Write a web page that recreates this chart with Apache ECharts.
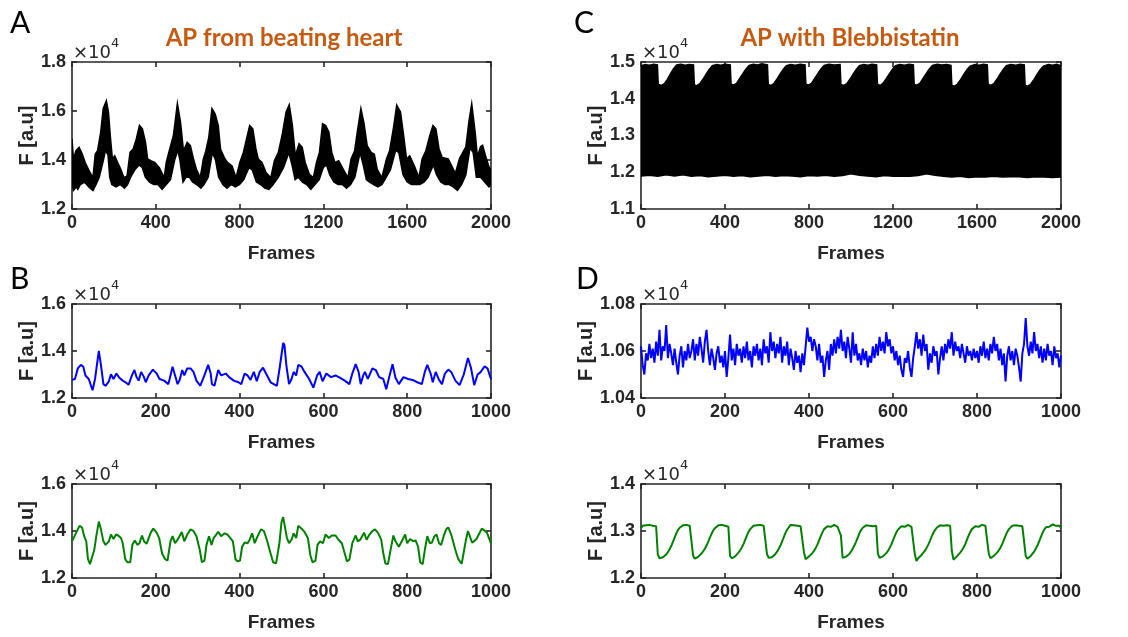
<!DOCTYPE html>
<html>
<head>
<meta charset="utf-8">
<script src="https://cdn.jsdelivr.net/npm/echarts@6/dist/echarts.min.js"></script>
<style>
html, body { margin: 0; padding: 0; background: #fff; }
#container { width: 1128px; height: 637px; }
</style>
</head>
<body>
<div id="container"></div>
<script>
// all values in units of 1e4 (as on the axes)

// A: beating heart, black band (upper / lower envelope)
var aUpperFrames = [0,7,19,34,49,63,86,100,111,122,137,149,164,174,184,193,204,218,233,248,263,277,292,307,322,336,351,361,376,395,417,440,450,462,484,503,518,532,550,565,580,594,612,627,639,653,668,683,698,709,727,742,764,783,801,818,833,848,863,878,889,907,926,949,966,985,1004,1022,1037,1052,1066,1084,1099,1113,1133,1152,1167,1181,1196,1211,1226,1240,1255,1273,1295,1317,1332,1349,1364,1379,1394,1409,1428,1443,1457,1479,1501,1516,1535,1550,1568,1583,1597,1612,1634,1656,1671,1689,1708,1723,1737,1752,1767,1796,1830,1850,1880,1895,1908,1925,1935,1950,1960,1975,1990,2000];
var aUpper = [1.486,1.404,1.438,1.452,1.424,1.390,1.349,1.328,1.424,1.438,1.514,1.610,1.642,1.596,1.486,1.404,1.417,1.390,1.362,1.328,1.335,1.431,1.445,1.486,1.541,1.527,1.472,1.404,1.397,1.390,1.369,1.328,1.390,1.431,1.500,1.631,1.555,1.438,1.472,1.459,1.404,1.362,1.328,1.404,1.438,1.493,1.610,1.589,1.541,1.445,1.410,1.390,1.376,1.328,1.390,1.431,1.486,1.541,1.527,1.445,1.404,1.390,1.349,1.328,1.397,1.431,1.507,1.596,1.626,1.541,1.417,1.466,1.452,1.390,1.342,1.328,1.390,1.431,1.548,1.541,1.514,1.431,1.390,1.397,1.362,1.328,1.404,1.438,1.527,1.610,1.548,1.459,1.431,1.424,1.362,1.328,1.404,1.438,1.534,1.624,1.596,1.500,1.404,1.417,1.376,1.328,1.404,1.438,1.500,1.541,1.527,1.445,1.410,1.404,1.346,1.407,1.454,1.560,1.630,1.509,1.414,1.454,1.460,1.414,1.373,1.360];
var aLowerFrames = [0,7,20,28,40,60,80,100,115,130,150,160,172,180,190,210,230,250,265,280,300,320,335,350,370,390,410,430,450,470,490,505,515,530,545,560,575,595,615,630,650,670,685,700,720,740,760,780,800,820,845,860,880,900,920,940,960,985,1010,1035,1050,1065,1080,1100,1120,1140,1160,1180,1200,1215,1230,1250,1270,1290,1310,1330,1350,1375,1390,1405,1420,1440,1460,1480,1500,1520,1545,1560,1580,1600,1620,1640,1660,1680,1700,1725,1740,1760,1780,1800,1820,1840,1860,1880,1900,1915,1930,1950,1970,1990,2000];
var aLower = [1.307,1.276,1.290,1.280,1.300,1.310,1.290,1.275,1.300,1.330,1.400,1.440,1.420,1.330,1.300,1.290,1.300,1.285,1.300,1.330,1.360,1.380,1.370,1.330,1.310,1.300,1.300,1.280,1.300,1.320,1.400,1.440,1.400,1.310,1.330,1.330,1.310,1.300,1.285,1.300,1.330,1.430,1.400,1.330,1.300,1.285,1.300,1.290,1.300,1.320,1.370,1.360,1.310,1.300,1.285,1.280,1.300,1.330,1.370,1.430,1.380,1.320,1.330,1.310,1.300,1.280,1.300,1.320,1.370,1.380,1.340,1.310,1.300,1.300,1.285,1.300,1.330,1.430,1.380,1.320,1.310,1.300,1.290,1.300,1.330,1.360,1.440,1.430,1.340,1.310,1.300,1.300,1.300,1.310,1.330,1.380,1.340,1.310,1.300,1.300,1.290,1.276,1.300,1.340,1.450,1.430,1.330,1.330,1.310,1.290,1.300];

// C: blebbistatin, black band
var cUpperFrames = [0,20,40,60,78,82,95,110,125,140,155,170,190,210,230,250,254,265,280,295,310,325,340,360,380,400,425,429,440,455,470,485,500,515,535,555,575,602,606,618,632,647,662,677,692,712,735,758,781,785,797,812,827,842,857,872,895,920,948,952,965,980,995,1010,1025,1040,1060,1080,1100,1122,1126,1138,1152,1167,1182,1197,1212,1232,1255,1277,1297,1301,1313,1328,1343,1358,1373,1388,1410,1432,1455,1476,1480,1492,1507,1522,1537,1552,1567,1590,1610,1630,1649,1653,1665,1680,1695,1710,1725,1740,1760,1785,1805,1825,1829,1841,1856,1871,1886,1901,1916,1940,1960,1980,2000];
var cUpper = [1.490,1.493,1.491,1.494,1.492,1.440,1.436,1.440,1.452,1.468,1.482,1.492,1.494,1.491,1.493,1.492,1.438,1.435,1.441,1.453,1.467,1.480,1.490,1.493,1.491,1.494,1.492,1.440,1.437,1.442,1.455,1.468,1.481,1.491,1.494,1.492,1.495,1.492,1.439,1.436,1.441,1.453,1.467,1.480,1.490,1.493,1.491,1.494,1.492,1.440,1.437,1.442,1.455,1.468,1.481,1.491,1.494,1.492,1.493,1.439,1.436,1.441,1.453,1.467,1.480,1.490,1.493,1.491,1.494,1.492,1.440,1.436,1.442,1.454,1.467,1.480,1.490,1.493,1.491,1.494,1.492,1.439,1.437,1.442,1.455,1.468,1.481,1.491,1.494,1.492,1.493,1.491,1.437,1.434,1.440,1.452,1.466,1.479,1.489,1.493,1.491,1.494,1.492,1.440,1.436,1.441,1.453,1.467,1.480,1.490,1.493,1.491,1.494,1.492,1.437,1.434,1.440,1.452,1.466,1.479,1.489,1.493,1.491,1.494,1.490];
var cLowerFrames = [0,40,80,120,160,200,240,280,320,360,400,440,480,520,560,600,640,680,720,760,800,840,880,920,960,1000,1040,1080,1120,1160,1200,1240,1280,1320,1360,1400,1440,1480,1520,1560,1600,1640,1680,1720,1760,1800,1840,1880,1920,1960,2000];
var cLower = [1.190,1.192,1.189,1.193,1.190,1.193,1.189,1.191,1.188,1.190,1.192,1.189,1.191,1.188,1.190,1.192,1.189,1.191,1.190,1.188,1.191,1.190,1.192,1.189,1.191,1.196,1.192,1.190,1.188,1.191,1.189,1.190,1.189,1.191,1.196,1.192,1.189,1.187,1.189,1.186,1.188,1.187,1.189,1.187,1.188,1.188,1.186,1.188,1.187,1.186,1.187];

// B: beating heart, blue trace
var bFrames = [0,7,14,21,27,32,40,49,55,64,69,75,80,88,93,99,106,113,121,128,135,143,149,154,159,165,171,176,183,193,202,209,220,230,235,240,246,252,257,263,268,275,283,290,297,306,316,325,331,334,340,349,356,367,375,386,397,404,412,419,426,434,441,448,456,463,474,489,496,504,507,512,518,524,529,535,540,548,555,566,576,585,591,598,607,618,629,640,651,662,669,677,684,689,695,699,706,717,725,733,743,750,758,765,772,780,791,802,813,824,835,842,848,856,861,868,876,883,890,898,905,915,925,935,945,952,960,968,975,985,992,1000];
var bBlue = [1.277,1.281,1.326,1.341,1.333,1.296,1.281,1.233,1.281,1.400,1.341,1.259,1.252,1.271,1.301,1.281,1.304,1.286,1.274,1.267,1.256,1.296,1.319,1.289,1.274,1.311,1.292,1.267,1.296,1.321,1.304,1.281,1.274,1.259,1.296,1.333,1.296,1.259,1.277,1.319,1.296,1.326,1.326,1.311,1.274,1.252,1.296,1.341,1.304,1.259,1.252,1.319,1.296,1.304,1.289,1.274,1.267,1.259,1.304,1.296,1.277,1.311,1.271,1.311,1.329,1.304,1.267,1.252,1.333,1.434,1.425,1.333,1.259,1.281,1.311,1.296,1.341,1.333,1.311,1.281,1.244,1.296,1.311,1.271,1.304,1.289,1.296,1.286,1.274,1.259,1.304,1.344,1.311,1.259,1.296,1.311,1.281,1.326,1.319,1.289,1.281,1.237,1.296,1.344,1.286,1.259,1.289,1.281,1.277,1.267,1.259,1.311,1.341,1.304,1.267,1.311,1.277,1.259,1.304,1.321,1.311,1.274,1.255,1.300,1.370,1.330,1.255,1.300,1.310,1.335,1.325,1.280];

// B (lower): beating heart, green trace
var b2Frames = [0,4,10,18,24,29,34,38,43,47,53,58,64,69,75,80,88,93,99,105,110,117,121,127,132,139,144,150,156,161,167,172,178,183,188,194,202,208,215,222,228,235,240,246,252,262,268,275,283,290,297,305,310,316,321,327,333,338,349,356,364,371,378,384,390,395,401,406,412,419,424,430,436,443,451,458,465,474,480,487,495,500,504,508,513,518,524,529,535,540,548,555,563,569,574,581,586,592,599,605,613,620,629,636,644,651,656,662,669,677,682,688,697,703,710,717,723,730,738,743,748,754,761,767,772,780,787,795,800,807,814,820,826,831,837,842,848,854,859,865,870,876,881,887,893,898,905,915,922,930,940,945,955,965,978,990,1000];
var b2Green = [1.356,1.363,1.393,1.422,1.415,1.378,1.356,1.281,1.259,1.252,1.319,1.378,1.440,1.407,1.356,1.341,1.356,1.385,1.366,1.385,1.381,1.370,1.348,1.281,1.267,1.267,1.341,1.360,1.341,1.348,1.381,1.356,1.345,1.370,1.393,1.410,1.393,1.370,1.304,1.281,1.274,1.356,1.378,1.348,1.363,1.396,1.356,1.385,1.407,1.400,1.378,1.319,1.267,1.274,1.341,1.378,1.341,1.370,1.396,1.378,1.390,1.385,1.370,1.356,1.281,1.271,1.274,1.333,1.351,1.348,1.363,1.390,1.348,1.378,1.407,1.400,1.363,1.304,1.267,1.262,1.348,1.437,1.459,1.452,1.370,1.348,1.363,1.390,1.370,1.422,1.410,1.396,1.370,1.296,1.267,1.274,1.341,1.356,1.348,1.385,1.370,1.381,1.381,1.363,1.348,1.304,1.271,1.278,1.348,1.381,1.356,1.363,1.393,1.363,1.385,1.400,1.407,1.393,1.363,1.304,1.262,1.259,1.326,1.381,1.356,1.333,1.356,1.385,1.348,1.366,1.356,1.360,1.333,1.267,1.259,1.319,1.378,1.348,1.351,1.378,1.385,1.348,1.341,1.378,1.407,1.415,1.385,1.319,1.280,1.260,1.360,1.400,1.350,1.365,1.410,1.394,1.347];

// D: blebbistatin, blue trace, one value every 4 frames
var dStep = 4;
var dBlue = [
  1.062,1.054,1.050,1.059,1.056,1.063,1.057,1.061,1.055,1.064,
  1.058,1.069,1.056,1.062,1.060,1.071,1.057,1.063,1.059,1.054,
  1.061,1.055,1.050,1.058,1.062,1.053,1.060,1.056,1.063,1.057,
  1.060,1.065,1.056,1.063,1.058,1.066,1.061,1.055,1.064,1.069,
  1.060,1.054,1.061,1.057,1.052,1.059,1.062,1.055,1.058,1.053,
  1.060,1.049,1.057,1.067,1.056,1.061,1.054,1.063,1.058,1.061,
  1.055,1.062,1.057,1.064,1.056,1.060,1.053,1.062,1.058,1.063,
  1.056,1.061,1.054,1.065,1.059,1.062,1.055,1.068,1.060,1.064,
  1.057,1.063,1.059,1.066,1.055,1.062,1.058,1.064,1.054,1.061,
  1.057,1.052,1.060,1.055,1.058,1.051,1.059,1.054,1.062,1.070,
  1.064,1.066,1.060,1.065,1.062,1.056,1.063,1.055,1.058,1.049,
  1.056,1.060,1.052,1.063,1.058,1.065,1.059,1.066,1.061,1.069,
  1.060,1.064,1.057,1.066,1.061,1.055,1.068,1.058,1.063,1.056,
  1.059,1.054,1.061,1.056,1.060,1.053,1.058,1.055,1.062,1.057,
  1.063,1.058,1.066,1.060,1.064,1.059,1.068,1.062,1.065,1.059,
  1.062,1.056,1.060,1.054,1.058,1.052,1.049,1.057,1.055,1.060,
  1.053,1.049,1.057,1.062,1.068,1.061,1.065,1.058,1.067,1.060,
  1.063,1.052,1.059,1.055,1.062,1.058,1.060,1.050,1.057,1.062,
  1.056,1.063,1.059,1.065,1.061,1.068,1.058,1.064,1.060,1.062,
  1.057,1.063,1.059,1.055,1.062,1.058,1.060,1.056,1.061,1.057,
  1.060,1.055,1.062,1.058,1.064,1.057,1.061,1.056,1.063,1.059,
  1.066,1.060,1.063,1.056,1.061,1.054,1.059,1.047,1.058,1.062,
  1.056,1.060,1.054,1.061,1.058,1.053,1.047,1.059,1.063,1.074,
  1.062,1.058,1.064,1.059,1.068,1.060,1.063,1.057,1.062,1.055,
  1.061,1.056,1.063,1.058,1.060,1.054,1.062,1.057,1.059,1.053,
  1.058
];

// D (lower): blebbistatin, green trace, one value every 4 frames
var d2Green = [
  1.306,1.311,1.309,1.312,1.310,1.313,1.309,1.311,1.312,1.310,
  1.250,1.242,1.240,1.244,1.247,1.250,1.255,1.261,1.268,1.277,1.286,1.295,1.302,1.307,1.310,1.312,1.309,1.313,1.310,1.311,1.308,
  1.248,1.241,1.243,1.245,1.248,1.252,1.257,1.262,1.269,1.277,1.286,1.294,1.301,1.306,1.309,1.312,1.310,1.313,1.309,1.311,1.312,1.309,
  1.247,1.242,1.244,1.246,1.250,1.254,1.259,1.265,1.272,1.281,1.290,1.298,1.304,1.308,1.311,1.309,1.312,1.310,1.313,1.309,1.311,1.310,
  1.251,1.243,1.241,1.244,1.247,1.251,1.256,1.262,1.269,1.278,1.287,1.296,1.303,1.308,1.313,1.310,1.312,1.309,1.311,1.313,1.310,1.311,
  1.255,1.240,1.243,1.246,1.249,1.253,1.258,1.264,1.271,1.280,1.289,1.297,1.304,1.308,1.310,1.312,1.309,1.311,1.313,1.310,1.309,1.311,
  1.290,1.243,1.241,1.245,1.247,1.251,1.256,1.262,1.269,1.277,1.286,1.295,1.302,1.307,1.310,1.312,1.309,1.311,1.313,1.310,1.308,1.311,
  1.252,1.243,1.244,1.246,1.249,1.253,1.258,1.264,1.271,1.280,1.289,1.297,1.303,1.307,1.310,1.312,1.309,1.311,1.313,1.310,1.309,1.311,
  1.250,1.236,1.242,1.245,1.249,1.253,1.258,1.264,1.271,1.279,1.288,1.296,1.302,1.307,1.310,1.312,1.309,1.311,1.310,1.312,1.309,1.311,
  1.258,1.239,1.243,1.246,1.250,1.254,1.259,1.265,1.272,1.281,1.290,1.298,1.304,1.308,1.310,1.312,1.309,1.311,1.313,1.310,1.311,1.309,
  1.252,1.242,1.244,1.247,1.250,1.254,1.259,1.265,1.272,1.281,1.290,1.298,1.304,1.308,1.311,1.310,1.312,1.309,1.311,1.313,1.310,1.309,
  1.247,1.241,1.244,1.247,1.251,1.256,1.262,1.269,1.278,1.287,1.296,1.303,1.308,1.311,1.309,1.312,1.314,1.310,1.311,1.308,1.311,1.307
];

var axisColor = '#262626';
var labelFont = 'Liberation Sans, Arial, sans-serif';
var titleColor = '#C55A11';

var panels = [
  { left: 72, top: 62, width: 419, height: 147, xMax: 2000, xStep: 400, yMin: 1.2, yMax: 1.8, yStep: 0.2, digits: 1 },
  { left: 641, top: 62, width: 420, height: 147, xMax: 2000, xStep: 400, yMin: 1.1, yMax: 1.5, yStep: 0.1, digits: 1 },
  { left: 72, top: 304, width: 419, height: 94, xMax: 1000, xStep: 200, yMin: 1.2, yMax: 1.6, yStep: 0.2, digits: 1 },
  { left: 641, top: 304, width: 420, height: 94, xMax: 1000, xStep: 200, yMin: 1.04, yMax: 1.08, yStep: 0.02, digits: 2 },
  { left: 72, top: 484, width: 419, height: 94, xMax: 1000, xStep: 200, yMin: 1.2, yMax: 1.6, yStep: 0.2, digits: 1 },
  { left: 641, top: 484, width: 420, height: 94, xMax: 1000, xStep: 200, yMin: 1.2, yMax: 1.4, yStep: 0.1, digits: 1 }
];

function pairs(xs, ys) {
  var out = [];
  for (var i = 0; i < ys.length; i++) out.push([xs[i], ys[i]]);
  return out;
}
function stepPairs(step, ys) {
  var out = [];
  for (var i = 0; i < ys.length; i++) out.push([i * step, ys[i]]);
  return out;
}

var grids = [], xAxes = [], yAxes = [], graphics = [];
panels.forEach(function (p, g) {
  grids.push({ left: p.left, top: p.top, width: p.width, height: p.height, outerBoundsMode: 'none', containLabel: false });
  var lineStyle = { color: axisColor, width: 1.6 };
  xAxes.push({
    type: 'value', gridIndex: g, min: 0, max: p.xMax, interval: p.xStep, position: 'bottom',
    axisLine: { show: true, onZero: false, lineStyle: lineStyle },
    axisTick: { show: true, inside: true, length: 5, lineStyle: lineStyle },
    axisLabel: {
      color: axisColor, fontFamily: labelFont, fontWeight: 'bold', fontSize: 18, margin: 5,
      formatter: function (v) { return String(v); }
    },
    splitLine: { show: false },
    name: 'Frames', nameLocation: 'middle', nameGap: 35,
    nameTextStyle: { color: axisColor, fontFamily: labelFont, fontWeight: 'bold', fontSize: 19 }
  });
  xAxes.push({
    type: 'value', gridIndex: g, min: 0, max: p.xMax, interval: p.xStep, position: 'top',
    axisLine: { show: true, onZero: false, lineStyle: lineStyle },
    axisTick: { show: true, inside: true, length: 5, lineStyle: lineStyle },
    axisLabel: { show: false }, splitLine: { show: false }
  });
  yAxes.push({
    type: 'value', gridIndex: g, min: p.yMin, max: p.yMax, interval: p.yStep, position: 'left',
    axisLine: { show: true, onZero: false, lineStyle: lineStyle },
    axisTick: { show: true, inside: true, length: 5, lineStyle: lineStyle },
    axisLabel: {
      color: axisColor, fontFamily: labelFont, fontWeight: 'bold', fontSize: 18, margin: 6,
      formatter: function (v) { return v.toFixed(p.digits); }
    },
    splitLine: { show: false },
    name: 'F [a.u]', nameLocation: 'middle', nameGap: (p.digits === 2 ? 42 : 33),
    nameTextStyle: { color: axisColor, fontFamily: labelFont, fontWeight: 'bold', fontSize: 20 }
  });
  yAxes.push({
    type: 'value', gridIndex: g, min: p.yMin, max: p.yMax, interval: p.yStep, position: 'right',
    axisLine: { show: true, onZero: false, lineStyle: lineStyle },
    axisTick: { show: true, inside: true, length: 5, lineStyle: lineStyle },
    axisLabel: { show: false }, splitLine: { show: false }
  });
  // x10^4 exponent label
  graphics.push({
    type: 'text', x: p.left + 1, y: p.top - 18, silent: true,
    style: { text: '\u00d710', fill: axisColor, font: '18px DejaVu Sans, sans-serif', textAlign: 'left', textVerticalAlign: 'top' }
  });
  graphics.push({
    type: 'text', x: p.left + 39, y: p.top - 25, silent: true,
    style: { text: '4', fill: axisColor, font: '13px DejaVu Sans, sans-serif', textAlign: 'left', textVerticalAlign: 'top' }
  });
});

// panel letters and titles
[['A', 10, 8], ['C', 574, 8], ['B', 10, 264], ['D', 576, 264]].forEach(function (t) {
  graphics.push({
    type: 'text', x: t[1], y: t[2], silent: true,
    style: { text: t[0], fill: '#000', font: '30px Lato, sans-serif', textAlign: 'left', textVerticalAlign: 'top' }
  });
});
[['AP from beating heart', 284], ['AP with Blebbistatin', 850]].forEach(function (t) {
  graphics.push({
    type: 'text', x: t[1], y: 26, silent: true,
    style: { text: t[0], fill: titleColor, font: 'bold 24px Lato, sans-serif', textAlign: 'center', textVerticalAlign: 'top' }
  });
});

function bandSeries(g, upX, upY, loX, loY) {
  return {
    type: 'custom', xAxisIndex: g * 2, yAxisIndex: g * 2, clip: true, silent: true,
    data: [[upX[0], upY[0]]],
    renderItem: function (params, api) {
      var pts = [];
      for (var i = 0; i < upX.length; i++) pts.push(api.coord([upX[i], upY[i]]));
      for (var j = loX.length - 1; j >= 0; j--) pts.push(api.coord([loX[j], loY[j]]));
      return { type: 'polygon', shape: { points: pts }, style: { fill: '#000', stroke: '#000', lineWidth: 1.5 } };
    }
  };
}

function traceSeries(g, data, color) {
  return {
    type: 'line', xAxisIndex: g * 2, yAxisIndex: g * 2, data: data,
    showSymbol: false, symbol: 'none', silent: true, clip: true,
    lineStyle: { color: color, width: 2 }
  };
}

var dom = document.getElementById('container');
var myChart = echarts.init(dom, null, { renderer: 'canvas' });
var option = {
  animation: false,
  backgroundColor: '#fff',
  grid: grids,
  xAxis: xAxes,
  yAxis: yAxes,
  graphic: graphics,
  series: [
    bandSeries(0, aUpperFrames, aUpper, aLowerFrames, aLower),
    bandSeries(1, cUpperFrames, cUpper, cLowerFrames, cLower),
    traceSeries(2, pairs(bFrames, bBlue), '#0000ff'),
    traceSeries(3, stepPairs(dStep, dBlue), '#0000ff'),
    traceSeries(4, pairs(b2Frames, b2Green), '#008000'),
    traceSeries(5, stepPairs(dStep, d2Green), '#008000')
  ]
};
myChart.setOption(option, true);
</script>
</body>
</html>
